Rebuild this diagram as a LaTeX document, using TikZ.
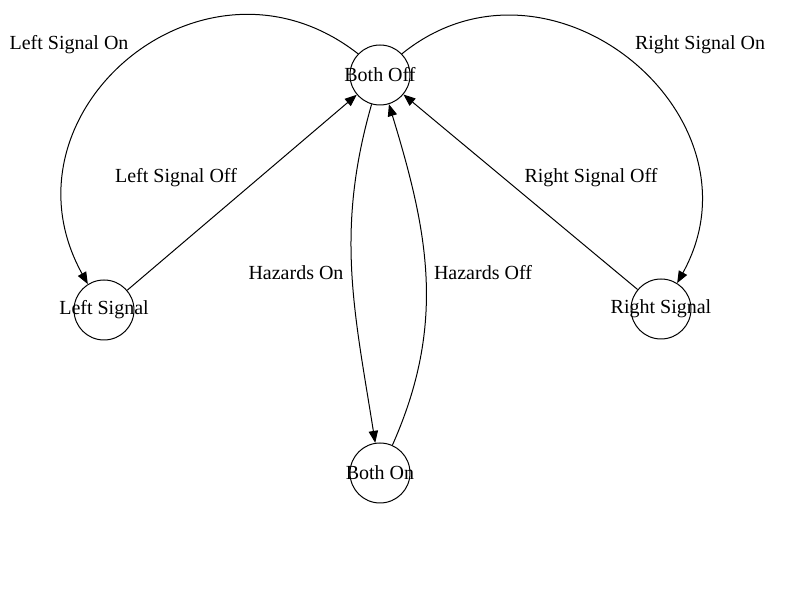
\documentclass[tikz,border=0pt]{standalone}
\usepackage{fontspec}
\setmainfont{Liberation Serif}
\usetikzlibrary{arrows.meta}

\begin{document}
\begin{tikzpicture}[x=0.75pt,y=0.75pt,
                    every node/.style={font=\fontsize{15}{18}\selectfont},
                    state/.style={circle,draw,line width=0.75pt,minimum size=45pt,inner sep=0pt,
                                  execute at begin node={\hbox to 0pt\bgroup\hss},
                                  execute at end node={\hss\egroup}},
                    trans/.style={line width=0.75pt,-{Triangle[length=9pt,width=7pt]}}
]
\useasboundingbox (0,0) rectangle (800,600);

\node [state] at (380,525) (bothoff) {Both Off};
\node [state] at (104,290) (leftsig) {Left Signal};
\node [state] at (661,291) (rightsig) {Right Signal};
\node [state] at (380,127) (bothon) {Both On};
%
\draw [trans] (bothoff.136) to[out=142,in=119,distance=147pt] (leftsig.122);
\draw [trans] (bothoff.44) to[out=39,in=61,distance=143pt] (rightsig.58);
\draw [trans] (leftsig) -- (bothoff);
\draw [trans] (rightsig) -- (bothoff);
\draw [trans] (bothoff) to[out=-106,in=99] (bothon);
\draw [trans] (bothon) to[out=66,in=-73] (bothoff);
%
\node at (69,555) (lson) {Left Signal On};
\node at (176,422) (lsoff) {Left Signal Off};
\node at (296,327) (hzon) {Hazards On};
\node at (483,327) (hzoff) {Hazards Off};
\node at (591,422) (rsoff) {Right Signal Off};
\node at (700,555) (rson) {Right Signal On};
\end{tikzpicture}
\end{document}
